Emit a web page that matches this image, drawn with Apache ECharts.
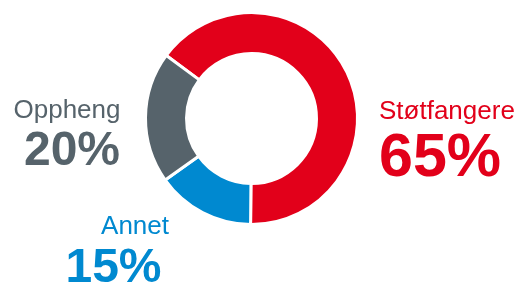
<!DOCTYPE html>
<html>
<head>
<meta charset="utf-8">
<style>
html,body{margin:0;padding:0;background:#fff;}
#chart{width:519px;height:291px;}
</style>
<script src="https://cdn.jsdelivr.net/npm/echarts@6/dist/echarts.min.js"></script>
</head>
<body>
<div id="chart"></div>
<script>
var categories = ['Støtfangere', 'Annet', 'Oppheng'];
var values = [65, 15, 20];
var colors = ['#E2001A', '#0089D0', '#56636B'];

var chart = echarts.init(document.getElementById('chart'), null, {renderer: 'canvas'});
var font = '"Liberation Sans", Arial, Helvetica, sans-serif';

// label layout: [nameX, nameY, nameAlign, pctX, pctY, pctAlign, pctSize]
var labelLayout = [
  [379, 112, 'left', 379, 159, 'left', 61],
  [169, 227, 'right', 161.5, 269, 'right', 48],
  [120.5, 111, 'right', 120, 152, 'right', 48]
];

var graphics = [];
categories.forEach(function (name, i) {
  var L = labelLayout[i];
  graphics.push({
    type: 'text', x: L[0], y: L[1], silent: true,
    style: {text: name, fill: colors[i], font: '26px ' + font, align: L[2], verticalAlign: 'middle'}
  });
  graphics.push({
    type: 'text', x: L[3], y: L[4], silent: true,
    style: {text: values[i] + '%', fill: colors[i], font: 'bold ' + L[6] + 'px ' + font, align: L[5], verticalAlign: 'middle'}
  });
});

chart.setOption({
  animation: false,
  backgroundColor: '#ffffff',
  series: [{
    type: 'pie',
    center: [251.5, 118.5],
    radius: [65, 106],
    startAngle: 143.5,
    clockwise: true,
    label: {show: false},
    labelLine: {show: false},
    emphasis: {disabled: true},
    itemStyle: {borderColor: '#ffffff', borderWidth: 3},
    data: categories.map(function (n, i) {
      return {name: n, value: values[i], itemStyle: {color: colors[i]}};
    })
  }],
  graphic: graphics
});
</script>
</body>
</html>
